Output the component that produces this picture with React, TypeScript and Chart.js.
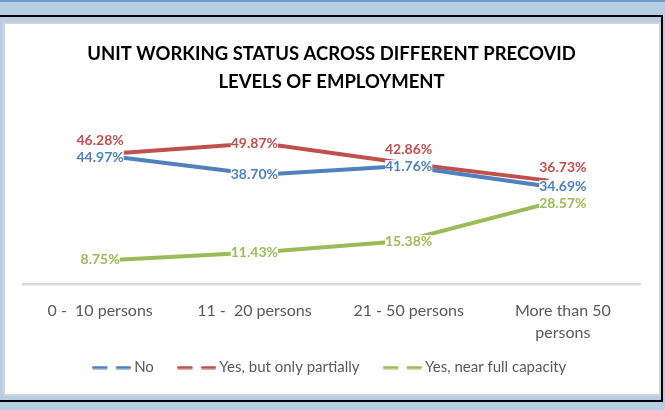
import React, { useEffect, useRef } from 'react';
import { Chart, registerables } from 'chart.js';

Chart.register(...registerables);

// ---- Data ----
const CATEGORIES: (string | string[])[] = [
  '0 -  10 persons',
  '11 -  20 persons',
  '21 - 50 persons',
  ['More than 50', 'persons'],
];
const SERIES_NAMES = ['No', 'Yes, but only partially', 'Yes, near full capacity'];
const NO = [44.97, 38.7, 41.76, 34.69];
const PARTIAL = [46.28, 49.87, 42.86, 36.73];
const FULL = [8.75, 11.43, 15.38, 28.57];
const TITLE = ['UNIT WORKING STATUS ACROSS DIFFERENT PRECOVID', 'LEVELS OF EMPLOYMENT'];

// ---- Styles ----
const COLORS = ['#4f81bd', '#c0504d', '#9bbb59'];
const LABEL_PLACEMENT = [
  ['center', 'center', 'center', 'center'],
  ['above', 'center', 'above', 'above'],
  ['center', 'center', 'center', 'center'],
];

function makeDash(color: string): HTMLCanvasElement {
  const c = document.createElement('canvas');
  c.width = 39;
  c.height = 4;
  const ctx = c.getContext('2d')!;
  ctx.strokeStyle = color;
  ctx.lineWidth = 3;
  ctx.lineCap = 'round';
  ctx.beginPath();
  ctx.moveTo(1.5, 2);
  ctx.lineTo(14, 2);
  ctx.moveTo(25, 2);
  ctx.lineTo(37.5, 2);
  ctx.stroke();
  return c;
}

const dataLabelPlugin = {
  id: 'dataLabels',
  afterLayout(chart: any) {
    // let the wrapped x tick labels draw below the (shortened) axis box
    const xs = chart.scales.x;
    if (xs) xs.bottom = xs.bottom + 40;
  },
  afterDatasetsDraw(chart: any) {
    const ctx = chart.ctx as CanvasRenderingContext2D;
    const xs = chart.scales.x;
    ctx.save();
    ctx.font = 'bold 14px Lato';
    ctx.textAlign = 'center';
    ctx.textBaseline = 'middle';
    chart.data.datasets.forEach((ds: any, di: number) => {
      const meta = chart.getDatasetMeta(di);
      meta.data.forEach((pt: any, j: number) => {
        const text = ds.data[j].y.toFixed(2) + '%';
        const x = xs.getPixelForTick(j);
        const y = pt.y + (LABEL_PLACEMENT[di][j] === 'above' ? -13 : 0);
        const w = ctx.measureText(text).width;
        ctx.fillStyle = '#ffffff';
        ctx.fillRect(x - w / 2, y - 6, w, 12);
        ctx.fillStyle = COLORS[di];
        ctx.fillText(text, x, y);
      });
    });
    ctx.restore();
  },
};

export default function App() {
  const ref = useRef<HTMLCanvasElement>(null);

  useEffect(() => {
    const dashes = COLORS.map(makeDash);
    const series = [NO, PARTIAL, FULL];
    const chart = new Chart(ref.current!, {
      type: 'line',
      data: {
        labels: CATEGORIES as any,
        datasets: series.map((vals, i) => ({
          label: SERIES_NAMES[i],
          data: vals.map((v, j) => ({ x: j, y: v })),
          xAxisID: 'xd',
          yAxisID: 'y',
          borderColor: COLORS[i],
          backgroundColor: COLORS[i],
          borderWidth: 4,
          pointRadius: 0,
          pointHoverRadius: 0,
          tension: 0,
          borderCapStyle: 'round',
          borderJoinStyle: 'round',
          fill: false,
        })) as any,
      },
      options: {
        responsive: false,
        animation: false,
        devicePixelRatio: 1,
        layout: { padding: { left: 23, right: 25, top: 0, bottom: 25 } },
        scales: {
          x: {
            type: 'category',
            labels: CATEGORIES as any,
            offset: true,
            grid: { display: false, drawTicks: false },
            border: { display: true, color: '#d9d9d9', width: 2.5 },
            ticks: {
              color: '#595959',
              font: { family: 'Lato', size: 16, lineHeight: 1.32 },
              padding: 16,
              maxRotation: 0,
              minRotation: 0,
              autoSkip: false,
            },
            afterFit: (scale: any) => {
              scale.height = 47.3;
            },
          },
          xd: {
            type: 'linear',
            display: false,
            min: -0.656,
            max: 3.649,
          },
          y: {
            type: 'linear',
            display: false,
            min: 0,
            max: 60,
          },
        },
        plugins: {
          title: {
            display: true,
            text: TITLE,
            color: '#000000',
            font: { family: 'Lato', size: 18.5, weight: 'bold', lineHeight: 28 / 18.5 },
            padding: { top: 40, bottom: 18.3 },
          },
          legend: {
            display: true,
            position: 'bottom',
            labels: {
              usePointStyle: true,
              pointStyleWidth: 30,
              padding: 28,
              color: '#595959',
              font: { family: 'Lato', size: 15 },
              generateLabels: (c: any) =>
                c.data.datasets.map((ds: any, i: number) => ({
                  text: ds.label,
                  fillStyle: COLORS[i],
                  strokeStyle: COLORS[i],
                  lineWidth: 0,
                  pointStyle: dashes[i],
                  hidden: false,
                  datasetIndex: i,
                  fontColor: '#595959',
                })),
            },
          },
          tooltip: { enabled: false },
        },
      } as any,
      plugins: [dataLabelPlugin],
    });
    return () => chart.destroy();
  }, []);

  return (
    <div
      style={{
        position: 'fixed',
        left: 0,
        top: 0,
        width: 665,
        height: 410,
        background: '#b8cce4',
        overflow: 'hidden',
      }}
    >
      <div style={{ position: 'absolute', left: 0, top: 0, width: 665, height: 2, background: '#6f9dd2' }} />
      <div
        style={{
          position: 'absolute',
          left: -5,
          top: 15,
          width: 668,
          height: 387,
          border: '2px solid #000',
          boxSizing: 'border-box',
        }}
      />
      <div
        style={{
          position: 'absolute',
          left: 3,
          top: 22,
          width: 658,
          height: 374,
          border: '2px solid #d4d4d4',
          boxSizing: 'border-box',
          background: '#ffffff',
        }}
      />
      <canvas
        ref={ref}
        width={665}
        height={410}
        style={{ position: 'absolute', left: 0, top: 0, width: 665, height: 410 }}
      />
    </div>
  );
}
